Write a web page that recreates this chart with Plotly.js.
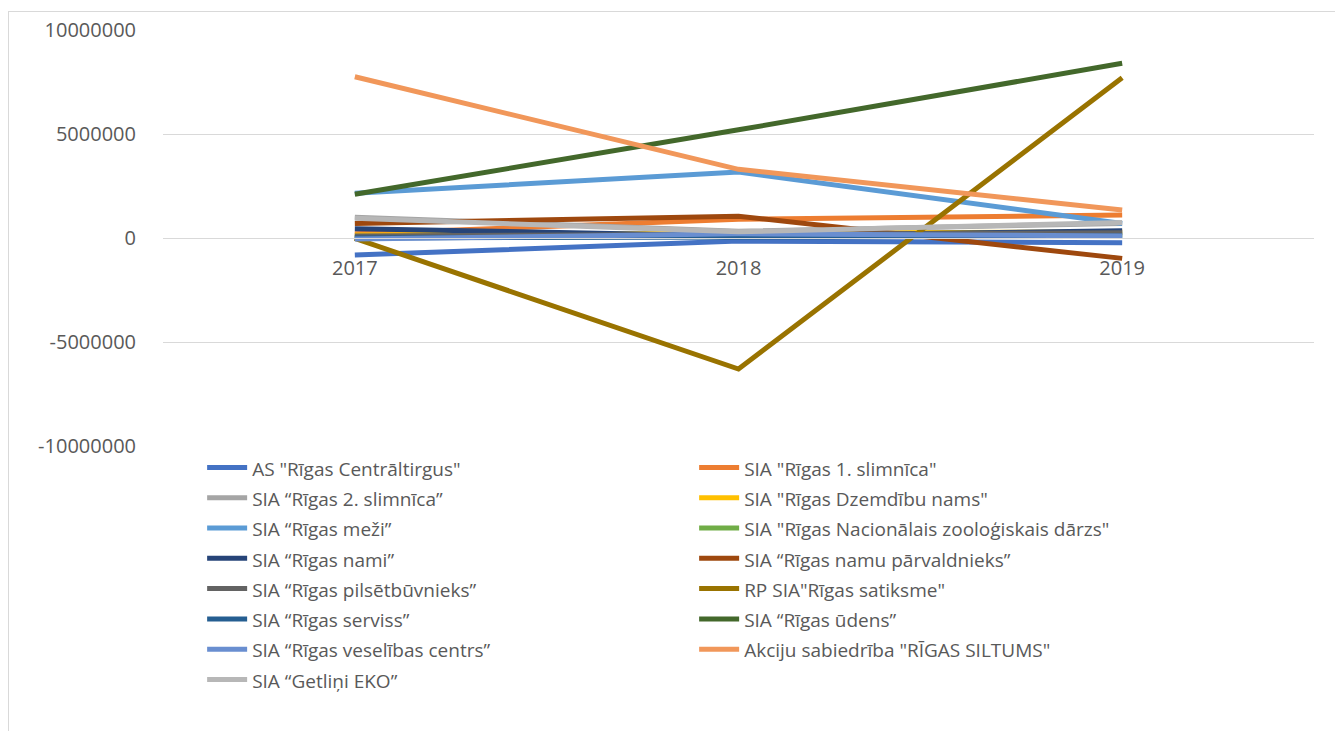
<!DOCTYPE html>
<html>
<head>
<meta charset="utf-8">
<script src="https://cdn.plot.ly/plotly-3.0.1.min.js"></script>
<style>
  html, body { margin:0; padding:0; background:#ffffff; overflow:hidden; }
  #frame { position:absolute; left:8px; top:11px; width:1327px; height:720px; border-left:1px solid #D9D9D9; border-top:1px solid #D9D9D9; box-sizing:border-box; }
  #chart { position:absolute; left:0; top:0; width:1335px; height:731px; }
</style>
</head>
<body>
<div id="frame"></div>
<div id="chart"></div>
<script>
const years = ["2017", "2018", "2019"];

const names = [
  'AS "Rīgas Centrāltirgus"',
  'SIA "Rīgas 1. slimnīca"',
  'SIA “Rīgas 2. slimnīca”',
  'SIA "Rīgas Dzemdību nams"',
  'SIA “Rīgas meži”',
  'SIA "Rīgas Nacionālais zooloģiskais dārzs"',
  'SIA “Rīgas nami”',
  'SIA “Rīgas namu pārvaldnieks”',
  'SIA “Rīgas pilsētbūvnieks”',
  'RP SIA"Rīgas satiksme"',
  'SIA “Rīgas serviss”',
  'SIA “Rīgas ūdens”',
  'SIA “Rīgas veselības centrs”',
  'Akciju sabiedrība "RĪGAS SILTUMS"',
  'SIA “Getliņi EKO”'
];

const centraltirgus   = [-820000, -150000, -230000];
const slimnica1       = [200000, 900000, 1100000];
const slimnica2       = [1000000, 330000, 700000];
const dzemdibuNams    = [150000, 200000, 300000];
const mezi            = [2150000, 3170000, 700000];
const zoo             = [30000, 100000, 150000];
const nami            = [450000, 100000, 350000];
const namuParvaldnieks= [700000, 1050000, -980000];
const pilsetbuvnieks  = [100000, 150000, 250000];
const satiksme        = [-20000, -6300000, 7700000];
const serviss         = [0, 50000, 100000];
const udens           = [2100000, 5200000, 8400000];
const veselibasCentrs = [-50000, 200000, 100000];
const siltums         = [7750000, 3300000, 1350000];
const getlini         = [950000, 300000, 750000];

const seriesValues = [centraltirgus, slimnica1, slimnica2, dzemdibuNams, mezi, zoo, nami,
  namuParvaldnieks, pilsetbuvnieks, satiksme, serviss, udens, veselibasCentrs, siltums, getlini];

const colors = ["#4472C4", "#ED7D31", "#A5A5A5", "#FFC000", "#5B9BD5", "#70AD47", "#264478",
  "#9E480E", "#636363", "#997300", "#255E91", "#43682B", "#698ED0", "#F1975A", "#B7B7B7"];

const yTicks = [-10000000, -5000000, 0, 5000000, 10000000];

const traces = names.map((n, i) => ({
  type: 'scatter',
  mode: 'lines',
  name: '<span style="font-size:19px">' + n + '</span>',
  x: years,
  y: seriesValues[i],
  line: { color: colors[i], width: 5 },
  hoverinfo: 'y'
}));

const layout = {
  width: 1335,
  height: 731,
  paper_bgcolor: 'rgba(0,0,0,0)',
  plot_bgcolor: 'rgba(0,0,0,0)',
  margin: { l: 163, r: 21, t: 30, b: 285, pad: 0 },
  font: { family: 'Open Sans, sans-serif', color: '#595959', size: 18 },
  showlegend: true,
  xaxis: {
    type: 'category',
    anchor: 'free',
    position: 0.5,
    showgrid: false,
    showline: true,
    linecolor: '#D9D9D9',
    linewidth: 1,
    ticks: 'outside',
    ticklen: 12,
    tickcolor: 'rgba(0,0,0,0)',
    tickfont: { size: 20, color: '#595959' },
    zeroline: false,
    range: [-0.5, 2.5]
  },
  yaxis: {
    range: [-10000000, 10000000],
    tickvals: yTicks,
    ticktext: yTicks.map(v => String(v)),
    showgrid: true,
    gridcolor: '#D9D9D9',
    gridwidth: 1,
    zeroline: false,
    showline: false,
    ticks: 'outside',
    ticklen: 22,
    tickcolor: 'rgba(0,0,0,0)',
    tickfont: { size: 20, color: '#595959' }
  },
  legend: {
    orientation: 'h',
    x: 0.034,
    xanchor: 'left',
    y: -0.003,
    yanchor: 'top',
    entrywidth: 437,
    entrywidthmode: 'pixels',
    font: { size: 21, color: '#595959' },
    traceorder: 'normal',
    tracegroupgap: 0,
    itemwidth: 40
  }
};

Plotly.newPlot('chart', traces, layout, { displayModeBar: false, staticPlot: true });
</script>
</body>
</html>
